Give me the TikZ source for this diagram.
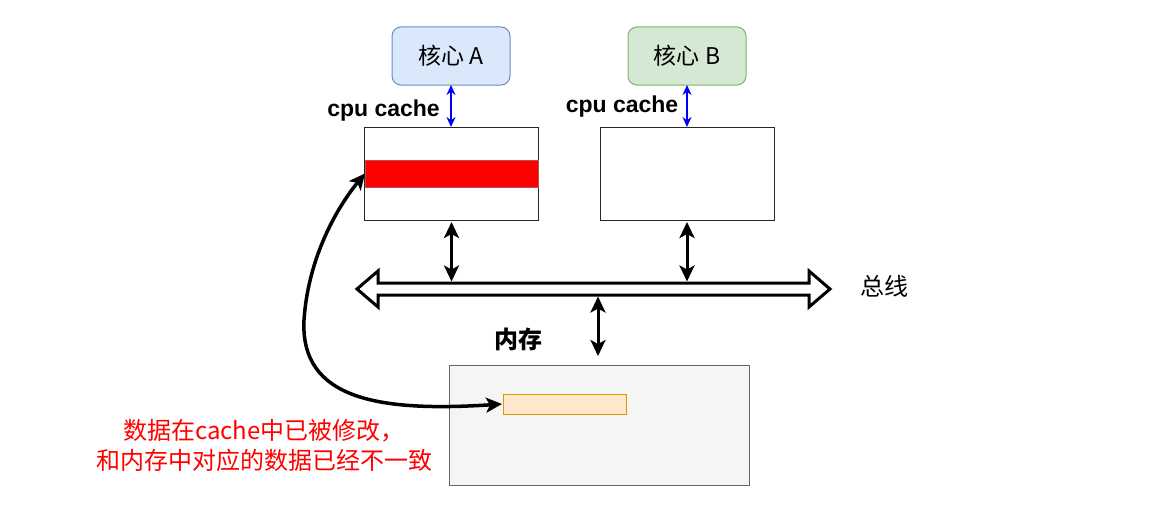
\documentclass[tikz,border=0pt]{standalone}
\usepackage{fontspec}
\setmainfont{Liberation Sans}
\newfontfamily\cjk{Noto Sans CJK SC}
\usepackage{tikz}
\usetikzlibrary{arrows.meta}

\definecolor{coreAfill}{HTML}{DAE8FC}
\definecolor{coreAline}{HTML}{6C8EBF}
\definecolor{coreBfill}{HTML}{D5E8D4}
\definecolor{coreBline}{HTML}{82B366}
\definecolor{memfill}{HTML}{F5F5F5}
\definecolor{memline}{HTML}{666666}
\definecolor{linefill}{HTML}{FFE6CC}
\definecolor{lineline}{HTML}{D79B00}
\definecolor{bandline}{HTML}{B85450}

\begin{document}
\begin{tikzpicture}[x=1pt,y=-1pt,
    box/.style={draw=black!85, line width=1pt, inner sep=0pt, outer sep=0pt},
    core/.style={box, rounded corners=9pt, minimum width=118pt, minimum height=58pt,
      font=\cjk\fontsize{23}{27}\selectfont},
    cachebox/.style={box, minimum width=174pt, minimum height=93pt},
    lbl/.style={inner sep=1pt, font=\fontsize{23}{27}\selectfont\bfseries},
    bluearr/.style={{Stealth[length=10pt,width=9pt]}-{Stealth[length=10pt,width=9pt]},
      blue, line width=1.6pt},
    blackarr/.style={{Stealth[length=16pt,width=15pt,inset=4pt]}-{Stealth[length=16pt,width=15pt,inset=4pt]},
      line width=3pt},
  ]
  \useasboundingbox (0,0) rectangle (1175,511);

  %(cores)
  \node[core, fill=coreAfill, draw=coreAline] (coreA) at (451,56) {核心 A};
  \node[core, fill=coreBfill, draw=coreBline] (coreB) at (687,56) {核心 B};

  %(caches)
  \node[cachebox] (cacheA) at (451.5,173.5) {};
  \node[box, fill=red, draw=bandline, minimum width=173pt, minimum height=27pt] (band) at (451.5,173.5) {};
  \node[cachebox] (cacheB) at (687,173.5) {};
  \node[lbl] (labA) at (383.5,111) {cpu cache};
  \node[lbl] (labB) at (622,107) {cpu cache};
  \draw[bluearr] (coreA.south) -- (coreA.south |- cacheA.north);
  \draw[bluearr] (coreB.south) -- (coreB.south |- cacheB.north);

  %(bus)
  \coordinate (busTop) at (0,281.5);
  \coordinate (busBot) at (0,296.5);
  \draw[line width=3pt, line join=miter, fill=white]
    (357,289) -- (378,271) -- (378,283) -- (809,283) -- (809,271) -- (830,289)
    -- (809,307) -- (809,295) -- (378,295) -- (378,307) -- cycle;
  \node[font=\cjk\fontsize{24}{28}\selectfont] (busLab) at (884,286) {总线};
  \draw[blackarr, shorten <=2pt] (cacheA.south) -- (cacheA.south |- busTop);
  \draw[blackarr, shorten <=2pt] (cacheB.south) -- (cacheB.south |- busTop);

  %(memory)
  \node[box, fill=memfill, draw=memline, minimum width=300pt, minimum height=120pt] (mem) at (599,425) {};
  \node[box, fill=linefill, draw=lineline, minimum width=123pt, minimum height=20pt] (memLine) at (564.5,404) {};
  \node[font=\cjk\fontsize{24}{28}\selectfont\bfseries] (memLab) at (518,339) {内存};
  \coordinate (memTop) at (598,296.5);
  \draw[blackarr, shorten >=9pt] (memTop) -- (memTop |- mem.north);

  %(dirty line)
  \draw[blackarr, line width=3.5pt, shorten <=1pt]
    (memLine.west) .. controls (380,412) and (300,400) .. (304,320)
    .. controls (308,260) and (335,210) .. (band.west);
  \node[align=center, text=red, font=\cjk\fontsize{24}{30}\selectfont] (note) at (264,445)
    {数据在cache中已被修改，\\和内存中对应的数据已经不一致};
\end{tikzpicture}
\end{document}
